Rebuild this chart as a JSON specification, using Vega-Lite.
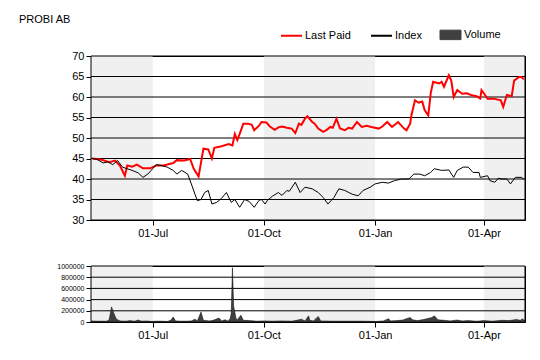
{
  "$schema": "https://vega.github.io/schema/vega-lite/v6.json",
  "background": "white",
  "padding": {"left": 18, "top": 13, "right": 16, "bottom": 5},
  "bounds": "flush",
  "spacing": 46,
  "resolve": {"scale": {"color": "independent"}, "legend": {"color": "independent"}},
  "datasets": {
    "bands": [
      {"start": "2016-04-01", "end": "2016-07-01"},
      {"start": "2016-10-01", "end": "2017-01-01"},
      {"start": "2017-04-01", "end": "2017-07-01"}
    ],
    "edges": [{"edge": "2016-05-11"}, {"edge": "2017-05-05"}],
    "priceGrid": [{"v": 30}, {"v": 35}, {"v": 40}, {"v": 45}, {"v": 50}, {"v": 55}, {"v": 60}, {"v": 65}, {"v": 70}],
    "volGrid": [{"v": 0}, {"v": 200000}, {"v": 400000}, {"v": 600000}, {"v": 800000}, {"v": 1000000}],
    "price": [
      {"date": "2016-05-12", "series": "Last Paid", "value": 45.0},
      {"date": "2016-05-20", "series": "Last Paid", "value": 44.7},
      {"date": "2016-05-26", "series": "Last Paid", "value": 44.1},
      {"date": "2016-05-31", "series": "Last Paid", "value": 44.5},
      {"date": "2016-06-04", "series": "Last Paid", "value": 43.2},
      {"date": "2016-06-08", "series": "Last Paid", "value": 40.8},
      {"date": "2016-06-10", "series": "Last Paid", "value": 43.3},
      {"date": "2016-06-14", "series": "Last Paid", "value": 43.0},
      {"date": "2016-06-18", "series": "Last Paid", "value": 43.5},
      {"date": "2016-06-23", "series": "Last Paid", "value": 42.6},
      {"date": "2016-06-29", "series": "Last Paid", "value": 42.6},
      {"date": "2016-07-04", "series": "Last Paid", "value": 43.3},
      {"date": "2016-07-10", "series": "Last Paid", "value": 43.3},
      {"date": "2016-07-18", "series": "Last Paid", "value": 43.9},
      {"date": "2016-07-21", "series": "Last Paid", "value": 44.6},
      {"date": "2016-07-27", "series": "Last Paid", "value": 44.5},
      {"date": "2016-08-01", "series": "Last Paid", "value": 44.9},
      {"date": "2016-08-04", "series": "Last Paid", "value": 42.5},
      {"date": "2016-08-08", "series": "Last Paid", "value": 40.6},
      {"date": "2016-08-12", "series": "Last Paid", "value": 47.4},
      {"date": "2016-08-16", "series": "Last Paid", "value": 47.2},
      {"date": "2016-08-19", "series": "Last Paid", "value": 45.0},
      {"date": "2016-08-21", "series": "Last Paid", "value": 47.6},
      {"date": "2016-08-27", "series": "Last Paid", "value": 48.0},
      {"date": "2016-09-02", "series": "Last Paid", "value": 48.5},
      {"date": "2016-09-05", "series": "Last Paid", "value": 48.2},
      {"date": "2016-09-07", "series": "Last Paid", "value": 51.0},
      {"date": "2016-09-09", "series": "Last Paid", "value": 49.5},
      {"date": "2016-09-11", "series": "Last Paid", "value": 51.0},
      {"date": "2016-09-14", "series": "Last Paid", "value": 53.5},
      {"date": "2016-09-18", "series": "Last Paid", "value": 53.5},
      {"date": "2016-09-21", "series": "Last Paid", "value": 53.2},
      {"date": "2016-09-23", "series": "Last Paid", "value": 51.9},
      {"date": "2016-09-27", "series": "Last Paid", "value": 53.0},
      {"date": "2016-09-29", "series": "Last Paid", "value": 53.9},
      {"date": "2016-10-03", "series": "Last Paid", "value": 53.8},
      {"date": "2016-10-06", "series": "Last Paid", "value": 52.8},
      {"date": "2016-10-10", "series": "Last Paid", "value": 52.0},
      {"date": "2016-10-13", "series": "Last Paid", "value": 52.6},
      {"date": "2016-10-16", "series": "Last Paid", "value": 52.8},
      {"date": "2016-10-20", "series": "Last Paid", "value": 52.5},
      {"date": "2016-10-24", "series": "Last Paid", "value": 52.3},
      {"date": "2016-10-27", "series": "Last Paid", "value": 51.2},
      {"date": "2016-10-30", "series": "Last Paid", "value": 53.5},
      {"date": "2016-11-01", "series": "Last Paid", "value": 53.2},
      {"date": "2016-11-04", "series": "Last Paid", "value": 54.7},
      {"date": "2016-11-06", "series": "Last Paid", "value": 55.3},
      {"date": "2016-11-10", "series": "Last Paid", "value": 53.9},
      {"date": "2016-11-12", "series": "Last Paid", "value": 53.5},
      {"date": "2016-11-15", "series": "Last Paid", "value": 52.3},
      {"date": "2016-11-19", "series": "Last Paid", "value": 51.5},
      {"date": "2016-11-22", "series": "Last Paid", "value": 52.0},
      {"date": "2016-11-25", "series": "Last Paid", "value": 52.7},
      {"date": "2016-11-27", "series": "Last Paid", "value": 52.5},
      {"date": "2016-11-30", "series": "Last Paid", "value": 54.7},
      {"date": "2016-12-03", "series": "Last Paid", "value": 52.3},
      {"date": "2016-12-07", "series": "Last Paid", "value": 51.9},
      {"date": "2016-12-10", "series": "Last Paid", "value": 52.5},
      {"date": "2016-12-13", "series": "Last Paid", "value": 52.3},
      {"date": "2016-12-17", "series": "Last Paid", "value": 53.9},
      {"date": "2016-12-21", "series": "Last Paid", "value": 52.7},
      {"date": "2016-12-25", "series": "Last Paid", "value": 53.0},
      {"date": "2016-12-29", "series": "Last Paid", "value": 52.7},
      {"date": "2017-01-04", "series": "Last Paid", "value": 52.3},
      {"date": "2017-01-07", "series": "Last Paid", "value": 52.8},
      {"date": "2017-01-11", "series": "Last Paid", "value": 53.9},
      {"date": "2017-01-15", "series": "Last Paid", "value": 52.7},
      {"date": "2017-01-20", "series": "Last Paid", "value": 53.9},
      {"date": "2017-01-25", "series": "Last Paid", "value": 52.3},
      {"date": "2017-01-27", "series": "Last Paid", "value": 51.9},
      {"date": "2017-01-30", "series": "Last Paid", "value": 53.5},
      {"date": "2017-01-31", "series": "Last Paid", "value": 55.5},
      {"date": "2017-02-03", "series": "Last Paid", "value": 59.2},
      {"date": "2017-02-06", "series": "Last Paid", "value": 58.6},
      {"date": "2017-02-09", "series": "Last Paid", "value": 58.9},
      {"date": "2017-02-11", "series": "Last Paid", "value": 56.8},
      {"date": "2017-02-14", "series": "Last Paid", "value": 55.5},
      {"date": "2017-02-16", "series": "Last Paid", "value": 60.9},
      {"date": "2017-02-18", "series": "Last Paid", "value": 63.7},
      {"date": "2017-02-23", "series": "Last Paid", "value": 63.3},
      {"date": "2017-02-25", "series": "Last Paid", "value": 63.7},
      {"date": "2017-02-27", "series": "Last Paid", "value": 62.5},
      {"date": "2017-03-03", "series": "Last Paid", "value": 65.3},
      {"date": "2017-03-05", "series": "Last Paid", "value": 64.0},
      {"date": "2017-03-07", "series": "Last Paid", "value": 60.0},
      {"date": "2017-03-10", "series": "Last Paid", "value": 61.7},
      {"date": "2017-03-14", "series": "Last Paid", "value": 60.8},
      {"date": "2017-03-18", "series": "Last Paid", "value": 60.9},
      {"date": "2017-03-22", "series": "Last Paid", "value": 60.4},
      {"date": "2017-03-26", "series": "Last Paid", "value": 60.2},
      {"date": "2017-03-29", "series": "Last Paid", "value": 59.6},
      {"date": "2017-03-30", "series": "Last Paid", "value": 61.7},
      {"date": "2017-04-04", "series": "Last Paid", "value": 59.6},
      {"date": "2017-04-09", "series": "Last Paid", "value": 59.6},
      {"date": "2017-04-15", "series": "Last Paid", "value": 59.2},
      {"date": "2017-04-17", "series": "Last Paid", "value": 57.6},
      {"date": "2017-04-20", "series": "Last Paid", "value": 60.5},
      {"date": "2017-04-24", "series": "Last Paid", "value": 60.2},
      {"date": "2017-04-26", "series": "Last Paid", "value": 64.0},
      {"date": "2017-04-30", "series": "Last Paid", "value": 64.9},
      {"date": "2017-05-02", "series": "Last Paid", "value": 64.9},
      {"date": "2017-05-04", "series": "Last Paid", "value": 64.3},
      {"date": "2016-05-12", "series": "Index", "value": 45.0},
      {"date": "2016-05-16", "series": "Index", "value": 44.8},
      {"date": "2016-05-21", "series": "Index", "value": 43.9},
      {"date": "2016-05-25", "series": "Index", "value": 44.2},
      {"date": "2016-05-29", "series": "Index", "value": 43.5},
      {"date": "2016-06-02", "series": "Index", "value": 44.5},
      {"date": "2016-06-06", "series": "Index", "value": 42.9},
      {"date": "2016-06-10", "series": "Index", "value": 42.5},
      {"date": "2016-06-14", "series": "Index", "value": 42.1},
      {"date": "2016-06-19", "series": "Index", "value": 41.5},
      {"date": "2016-06-23", "series": "Index", "value": 40.4},
      {"date": "2016-06-27", "series": "Index", "value": 41.2},
      {"date": "2016-07-01", "series": "Index", "value": 42.5},
      {"date": "2016-07-04", "series": "Index", "value": 43.5},
      {"date": "2016-07-08", "series": "Index", "value": 43.3},
      {"date": "2016-07-13", "series": "Index", "value": 42.9},
      {"date": "2016-07-18", "series": "Index", "value": 42.1},
      {"date": "2016-07-21", "series": "Index", "value": 41.2},
      {"date": "2016-07-25", "series": "Index", "value": 42.1},
      {"date": "2016-07-30", "series": "Index", "value": 41.2},
      {"date": "2016-08-02", "series": "Index", "value": 38.8},
      {"date": "2016-08-05", "series": "Index", "value": 36.3},
      {"date": "2016-08-07", "series": "Index", "value": 34.7},
      {"date": "2016-08-10", "series": "Index", "value": 35.0},
      {"date": "2016-08-13", "series": "Index", "value": 36.7},
      {"date": "2016-08-16", "series": "Index", "value": 37.2},
      {"date": "2016-08-19", "series": "Index", "value": 33.9},
      {"date": "2016-08-23", "series": "Index", "value": 34.3},
      {"date": "2016-08-27", "series": "Index", "value": 35.3},
      {"date": "2016-08-31", "series": "Index", "value": 36.7},
      {"date": "2016-09-04", "series": "Index", "value": 34.3},
      {"date": "2016-09-07", "series": "Index", "value": 35.0},
      {"date": "2016-09-11", "series": "Index", "value": 33.1},
      {"date": "2016-09-15", "series": "Index", "value": 35.0},
      {"date": "2016-09-19", "series": "Index", "value": 34.5},
      {"date": "2016-09-23", "series": "Index", "value": 33.1},
      {"date": "2016-09-27", "series": "Index", "value": 34.8},
      {"date": "2016-09-29", "series": "Index", "value": 35.0},
      {"date": "2016-10-02", "series": "Index", "value": 33.9},
      {"date": "2016-10-04", "series": "Index", "value": 34.8},
      {"date": "2016-10-08", "series": "Index", "value": 35.8},
      {"date": "2016-10-13", "series": "Index", "value": 36.7},
      {"date": "2016-10-16", "series": "Index", "value": 36.0},
      {"date": "2016-10-20", "series": "Index", "value": 37.2},
      {"date": "2016-10-22", "series": "Index", "value": 37.0},
      {"date": "2016-10-27", "series": "Index", "value": 39.2},
      {"date": "2016-10-31", "series": "Index", "value": 36.7},
      {"date": "2016-11-04", "series": "Index", "value": 38.0},
      {"date": "2016-11-10", "series": "Index", "value": 37.6},
      {"date": "2016-11-15", "series": "Index", "value": 36.7},
      {"date": "2016-11-19", "series": "Index", "value": 35.5},
      {"date": "2016-11-23", "series": "Index", "value": 33.9},
      {"date": "2016-11-28", "series": "Index", "value": 35.5},
      {"date": "2016-12-02", "series": "Index", "value": 37.6},
      {"date": "2016-12-07", "series": "Index", "value": 37.2},
      {"date": "2016-12-13", "series": "Index", "value": 36.3},
      {"date": "2016-12-18", "series": "Index", "value": 35.9},
      {"date": "2016-12-22", "series": "Index", "value": 37.2},
      {"date": "2016-12-28", "series": "Index", "value": 38.0},
      {"date": "2017-01-01", "series": "Index", "value": 38.8},
      {"date": "2017-01-07", "series": "Index", "value": 39.2},
      {"date": "2017-01-12", "series": "Index", "value": 39.0},
      {"date": "2017-01-17", "series": "Index", "value": 39.6},
      {"date": "2017-01-23", "series": "Index", "value": 40.0},
      {"date": "2017-01-29", "series": "Index", "value": 40.0},
      {"date": "2017-02-02", "series": "Index", "value": 41.2},
      {"date": "2017-02-07", "series": "Index", "value": 41.2},
      {"date": "2017-02-11", "series": "Index", "value": 40.8},
      {"date": "2017-02-16", "series": "Index", "value": 41.6},
      {"date": "2017-02-19", "series": "Index", "value": 42.5},
      {"date": "2017-02-25", "series": "Index", "value": 42.1},
      {"date": "2017-03-03", "series": "Index", "value": 42.2},
      {"date": "2017-03-07", "series": "Index", "value": 40.4},
      {"date": "2017-03-10", "series": "Index", "value": 42.1},
      {"date": "2017-03-15", "series": "Index", "value": 42.9},
      {"date": "2017-03-19", "series": "Index", "value": 42.9},
      {"date": "2017-03-23", "series": "Index", "value": 41.6},
      {"date": "2017-03-28", "series": "Index", "value": 41.6},
      {"date": "2017-03-29", "series": "Index", "value": 40.4},
      {"date": "2017-04-04", "series": "Index", "value": 40.8},
      {"date": "2017-04-06", "series": "Index", "value": 39.6},
      {"date": "2017-04-10", "series": "Index", "value": 39.2},
      {"date": "2017-04-13", "series": "Index", "value": 40.2},
      {"date": "2017-04-16", "series": "Index", "value": 40.0},
      {"date": "2017-04-20", "series": "Index", "value": 40.0},
      {"date": "2017-04-23", "series": "Index", "value": 38.8},
      {"date": "2017-04-27", "series": "Index", "value": 40.4},
      {"date": "2017-05-02", "series": "Index", "value": 40.4},
      {"date": "2017-05-04", "series": "Index", "value": 40.0}
    ],
    "volume": [
      {"date": "2016-05-11", "volume": 20000},
      {"date": "2016-05-16", "volume": 15000},
      {"date": "2016-05-20", "volume": 15000},
      {"date": "2016-05-24", "volume": 15000},
      {"date": "2016-05-26", "volume": 40000},
      {"date": "2016-05-28", "volume": 270000},
      {"date": "2016-05-30", "volume": 150000},
      {"date": "2016-06-01", "volume": 50000},
      {"date": "2016-06-04", "volume": 20000},
      {"date": "2016-06-09", "volume": 15000},
      {"date": "2016-06-12", "volume": 25000},
      {"date": "2016-06-16", "volume": 15000},
      {"date": "2016-06-19", "volume": 35000},
      {"date": "2016-06-22", "volume": 15000},
      {"date": "2016-06-26", "volume": 20000},
      {"date": "2016-06-30", "volume": 10000},
      {"date": "2016-07-04", "volume": 15000},
      {"date": "2016-07-08", "volume": 15000},
      {"date": "2016-07-13", "volume": 10000},
      {"date": "2016-07-16", "volume": 30000},
      {"date": "2016-07-18", "volume": 90000},
      {"date": "2016-07-20", "volume": 20000},
      {"date": "2016-07-24", "volume": 15000},
      {"date": "2016-07-29", "volume": 15000},
      {"date": "2016-08-02", "volume": 20000},
      {"date": "2016-08-05", "volume": 50000},
      {"date": "2016-08-07", "volume": 20000},
      {"date": "2016-08-10", "volume": 180000},
      {"date": "2016-08-12", "volume": 30000},
      {"date": "2016-08-17", "volume": 20000},
      {"date": "2016-08-20", "volume": 30000},
      {"date": "2016-08-25", "volume": 70000},
      {"date": "2016-08-27", "volume": 20000},
      {"date": "2016-08-30", "volume": 40000},
      {"date": "2016-09-01", "volume": 20000},
      {"date": "2016-09-03", "volume": 50000},
      {"date": "2016-09-04", "volume": 150000},
      {"date": "2016-09-05", "volume": 970000},
      {"date": "2016-09-06", "volume": 280000},
      {"date": "2016-09-08", "volume": 60000},
      {"date": "2016-09-09", "volume": 40000},
      {"date": "2016-09-12", "volume": 120000},
      {"date": "2016-09-14", "volume": 30000},
      {"date": "2016-09-19", "volume": 25000},
      {"date": "2016-09-25", "volume": 15000},
      {"date": "2016-10-01", "volume": 20000},
      {"date": "2016-10-08", "volume": 15000},
      {"date": "2016-10-16", "volume": 20000},
      {"date": "2016-10-24", "volume": 15000},
      {"date": "2016-10-28", "volume": 30000},
      {"date": "2016-11-01", "volume": 50000},
      {"date": "2016-11-04", "volume": 20000},
      {"date": "2016-11-07", "volume": 110000},
      {"date": "2016-11-08", "volume": 30000},
      {"date": "2016-11-11", "volume": 20000},
      {"date": "2016-11-15", "volume": 100000},
      {"date": "2016-11-17", "volume": 20000},
      {"date": "2016-11-26", "volume": 15000},
      {"date": "2016-12-08", "volume": 15000},
      {"date": "2016-12-21", "volume": 15000},
      {"date": "2017-01-02", "volume": 10000},
      {"date": "2017-01-08", "volume": 20000},
      {"date": "2017-01-12", "volume": 60000},
      {"date": "2017-01-14", "volume": 20000},
      {"date": "2017-01-19", "volume": 25000},
      {"date": "2017-01-24", "volume": 35000},
      {"date": "2017-01-27", "volume": 60000},
      {"date": "2017-01-30", "volume": 80000},
      {"date": "2017-02-01", "volume": 40000},
      {"date": "2017-02-05", "volume": 25000},
      {"date": "2017-02-09", "volume": 40000},
      {"date": "2017-02-13", "volume": 60000},
      {"date": "2017-02-17", "volume": 80000},
      {"date": "2017-02-19", "volume": 110000},
      {"date": "2017-02-22", "volume": 40000},
      {"date": "2017-02-27", "volume": 30000},
      {"date": "2017-03-04", "volume": 20000},
      {"date": "2017-03-10", "volume": 35000},
      {"date": "2017-03-14", "volume": 20000},
      {"date": "2017-03-19", "volume": 25000},
      {"date": "2017-03-26", "volume": 15000},
      {"date": "2017-04-01", "volume": 25000},
      {"date": "2017-04-08", "volume": 15000},
      {"date": "2017-04-16", "volume": 30000},
      {"date": "2017-04-22", "volume": 25000},
      {"date": "2017-04-28", "volume": 45000},
      {"date": "2017-05-01", "volume": 30000},
      {"date": "2017-05-03", "volume": 55000},
      {"date": "2017-05-05", "volume": 20000}
    ]
  },
  "vconcat": [
    {
      "width": 434,
      "height": 164,
      "title": {"text": "PROBI AB", "anchor": "start", "frame": "group", "dx": -72, "offset": 4, "fontSize": 11, "fontWeight": "normal", "font": "Liberation Sans", "color": "black"},
      "layer": [
        {
          "data": {"name": "bands"},
          "mark": {"type": "rect", "color": "#f0f0f0", "clip": true},
          "encoding": {
            "x": {"field": "start", "type": "temporal", "scale": {"type": "utc", "domain": [{"year": 2016, "month": 5, "date": 11, "utc": true}, {"year": 2017, "month": 5, "date": 5, "utc": true}]},
              "axis": {"values": [{"year": 2016, "month": 7, "date": 1, "utc": true}, {"year": 2016, "month": 10, "date": 1, "utc": true}, {"year": 2017, "month": 1, "date": 1, "utc": true}, {"year": 2017, "month": 4, "date": 1, "utc": true}], "format": "%d-%b", "grid": false, "title": null, "labelFontSize": 11}},
            "x2": {"field": "end"}
          }
        },
        {
          "data": {"name": "priceGrid"},
          "mark": {"type": "rule", "color": "black", "strokeWidth": 1},
          "encoding": {"y": {"field": "v", "type": "quantitative", "scale": {"domain": [30, 70], "nice": false, "zero": false}, "axis": {"values": [30, 35, 40, 45, 50, 55, 60, 65, 70], "tickCount": 9, "grid": false, "title": null, "labelFontSize": 11, "labelOverlap": false, "labelFlush": false, "labelBound": false, "labelSeparation": 0}}}
        },
        {
          "data": {"name": "edges"},
          "mark": {"type": "rule", "color": "black", "strokeWidth": 1},
          "encoding": {"x": {"field": "edge", "type": "temporal"}}
        },
        {
          "data": {"name": "price"},
          "transform": [{"filter": "datum.series === 'Last Paid'"}],
          "mark": {"type": "line", "strokeWidth": 2, "clip": true},
          "encoding": {
            "x": {"field": "date", "type": "temporal"},
            "y": {"field": "value", "type": "quantitative"},
            "color": {"field": "series", "type": "nominal"}
          }
        },
        {
          "data": {"name": "price"},
          "transform": [{"filter": "datum.series === 'Index'"}],
          "mark": {"type": "line", "strokeWidth": 1, "clip": true},
          "encoding": {
            "x": {"field": "date", "type": "temporal"},
            "y": {"field": "value", "type": "quantitative"},
            "color": {"field": "series", "type": "nominal",
              "scale": {"domain": ["Last Paid", "Index", "Volume"], "range": ["#ff0000", "#000000", "#404040"]},
              "legend": {"orient": "none", "legendX": 195, "legendY": -27, "direction": "horizontal", "title": null,
                "symbolType": "stroke", "symbolSize": 441, "symbolStrokeWidth": 2, "labelFontSize": 11, "labelFont": "Liberation Sans", "labelColor": "black", "labelOffset": 8, "columnPadding": 16,
                "encode": {"symbols": {"update": {
                  "shape": {"signal": "datum.value === 'Volume' ? 'M-1,-0.45H1V0.45H-1Z' : 'stroke'"},
                  "fill": {"signal": "datum.value === 'Volume' ? '#404040' : 'transparent'"},
                  "strokeWidth": {"signal": "datum.value === 'Volume' ? 1 : 2"}
                }}}}
            }
          }
        }
      ]
    },
    {
      "width": 434,
      "height": 56,
      "layer": [
        {
          "data": {"name": "bands"},
          "mark": {"type": "rect", "color": "#f0f0f0", "clip": true},
          "encoding": {
            "x": {"field": "start", "type": "temporal", "scale": {"type": "utc", "domain": [{"year": 2016, "month": 5, "date": 11, "utc": true}, {"year": 2017, "month": 5, "date": 5, "utc": true}]},
              "axis": {"values": [{"year": 2016, "month": 7, "date": 1, "utc": true}, {"year": 2016, "month": 10, "date": 1, "utc": true}, {"year": 2017, "month": 1, "date": 1, "utc": true}, {"year": 2017, "month": 4, "date": 1, "utc": true}], "format": "%d-%b", "grid": false, "title": null, "labelFontSize": 11}},
            "x2": {"field": "end"}
          }
        },
        {
          "data": {"name": "volGrid"},
          "mark": {"type": "rule", "color": "black", "strokeWidth": 1},
          "encoding": {"y": {"field": "v", "type": "quantitative", "scale": {"domain": [0, 1000000], "nice": false}, "axis": {"values": [0, 200000, 400000, 600000, 800000, 1000000], "tickCount": 6, "format": "d", "grid": false, "title": null, "labelFontSize": 7, "labelOverlap": false, "labelFlush": false, "labelBound": false, "labelSeparation": 0}}}
        },
        {
          "data": {"name": "edges"},
          "mark": {"type": "rule", "color": "black", "strokeWidth": 1},
          "encoding": {"x": {"field": "edge", "type": "temporal"}}
        },
        {
          "data": {"name": "volume"},
          "mark": {"type": "area", "color": "#404040", "stroke": "black", "strokeWidth": 0.5, "clip": true},
          "encoding": {
            "x": {"field": "date", "type": "temporal"},
            "y": {"field": "volume", "type": "quantitative"}
          }
        }
      ]
    }
  ],
  "config": {
    "font": "Liberation Sans",
    "view": {"stroke": "black", "strokeWidth": 1},
    "axis": {"domainColor": "black", "tickColor": "black", "labelColor": "black", "labelFont": "Liberation Sans", "tickSize": 5, "labelPadding": 2, "labelOverlap": false}
  }
}
